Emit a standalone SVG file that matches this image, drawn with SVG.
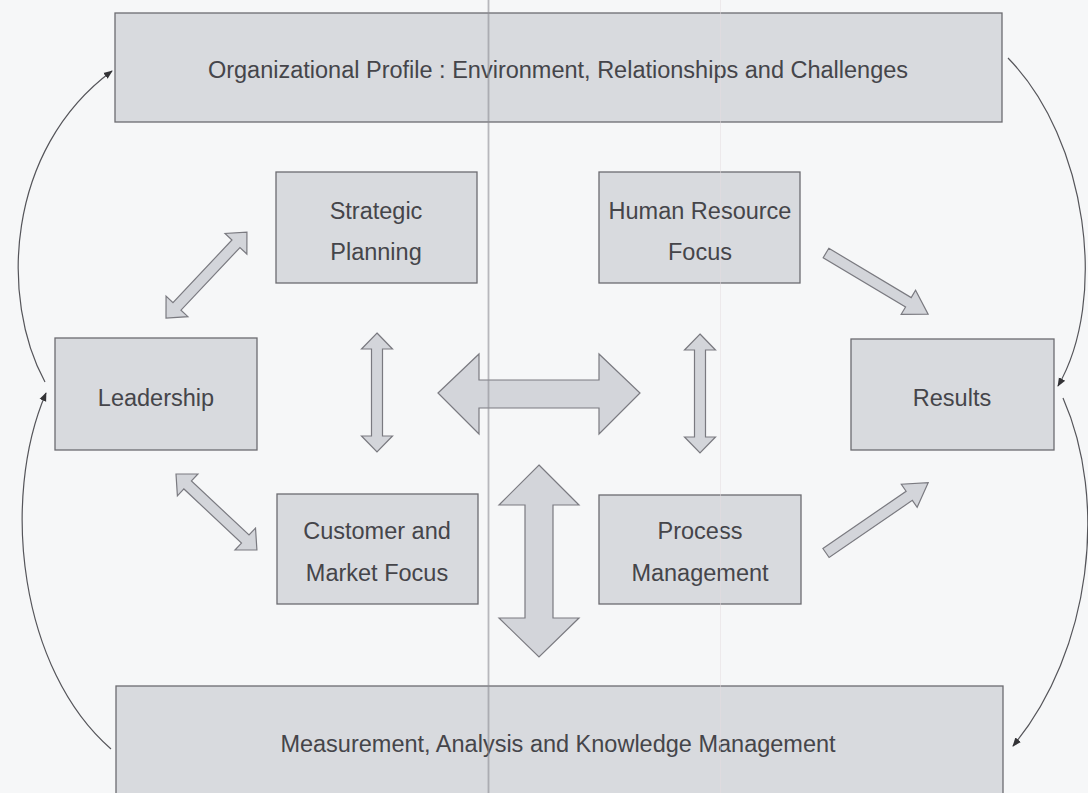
<svg xmlns="http://www.w3.org/2000/svg" width="1088" height="793" viewBox="0 0 1088 793">
<style>
.box{fill:#d8dade;stroke:#6c6c70;stroke-width:1.3}
.blk{fill:#d3d5da;stroke:#7a7a80;stroke-width:1.2;stroke-linejoin:miter}
.lbl{font-family:"Liberation Sans",Arial,sans-serif;font-size:23.5px;fill:#45454a;text-anchor:middle}
.cur{fill:none;stroke:#55555a;stroke-width:1.2}
</style>
<defs>
<marker id="ah" viewBox="0 0 10 10" refX="9" refY="5" markerWidth="9" markerHeight="9" markerUnits="userSpaceOnUse" orient="auto">
<path d="M0,1 L10,5 L0,9 z" fill="#333336"/>
</marker>
</defs>
<rect width="1088" height="793" fill="#f6f7f8"/>

<g id="org-profile">
<rect class="box" x="115" y="13" width="887" height="109"/>
<text class="lbl" x="558" y="78">Organizational Profile : Environment, Relationships and Challenges</text>
</g>
<g id="strategic-planning">
<rect class="box" x="276" y="172" width="201" height="111"/>
<text class="lbl" x="376" y="219">Strategic</text>
<text class="lbl" x="376" y="260">Planning</text>
</g>
<g id="hr-focus">
<rect class="box" x="599" y="172" width="201" height="111"/>
<text class="lbl" x="700" y="219">Human Resource</text>
<text class="lbl" x="700" y="260">Focus</text>
</g>
<g id="leadership">
<rect class="box" x="55" y="338" width="202" height="112"/>
<text class="lbl" x="156" y="406">Leadership</text>
</g>
<g id="results">
<rect class="box" x="851" y="339" width="203" height="111"/>
<text class="lbl" x="952" y="406">Results</text>
</g>
<g id="customer-market">
<rect class="box" x="277" y="494" width="201" height="110"/>
<text class="lbl" x="377" y="539">Customer and</text>
<text class="lbl" x="377" y="581">Market Focus</text>
</g>
<g id="process-mgmt">
<rect class="box" x="599" y="495" width="202" height="109"/>
<text class="lbl" x="700" y="539">Process</text>
<text class="lbl" x="700" y="581">Management</text>
</g>
<g id="measurement">
<rect class="box" x="116" y="686" width="887" height="120"/>
<text class="lbl" x="558" y="752">Measurement, Analysis and Knowledge Management</text>
</g>

<g id="connectors">
<polygon class="blk" transform="translate(166,318) rotate(-46.7)" points="0,0 16,-15 16,-5.5 102,-5.5 102,-15 118,0 102,15 102,5.5 16,5.5 16,15"/>
<polygon class="blk" transform="translate(176,474) rotate(43.2)" points="0,0 16,-15 16,-5.5 95,-5.5 95,-15 111,0 95,15 95,5.5 16,5.5 16,15"/>
<polygon class="blk" points="377,333 392.5,349 382.5,349 382.5,436 392.5,436 377,452 361.5,436 371.5,436 371.5,349 361.5,349"/>
<polygon class="blk" points="700,334 715.5,350 705.5,350 705.5,437 715.5,437 700,453 684.5,437 694.5,437 694.5,350 684.5,350"/>
<polygon class="blk" points="438,393 479,354 479,380 599,380 599,354 640,393 599,434 599,408 479,408 479,434"/>
<polygon class="blk" points="539,465 579,505 553,505 553,618 579,618 539,657 499,618 525,618 525,505 499,505"/>
<polygon class="blk" transform="translate(826,253) rotate(30.9)" points="0,-5.5 96,-5.5 96,-14 119,0 96,14 96,5.5 0,5.5"/>
<polygon class="blk" transform="translate(826,553) rotate(-34.5)" points="0,-5.5 101,-5.5 101,-14 124,0 101,14 101,5.5 0,5.5"/>
<path class="cur" marker-end="url(#ah)" d="M45,382 C0,300 5,150 112,71"/>
<path class="cur" marker-end="url(#ah)" d="M111,749 C20,670 0,500 46,393"/>
<path class="cur" marker-end="url(#ah)" d="M1008,58 C1088,140 1108,300 1058,386"/>
<path class="cur" marker-end="url(#ah)" d="M1063,398 C1108,500 1092,650 1013,746"/>
</g>

<line x1="488.5" y1="0" x2="488.5" y2="793" stroke="#8e8e95" stroke-width="1.8" opacity="0.6"/>
<line x1="720.5" y1="0" x2="720.5" y2="793" stroke="#e6dde0" stroke-width="1" opacity="0.5"/>
</svg>
